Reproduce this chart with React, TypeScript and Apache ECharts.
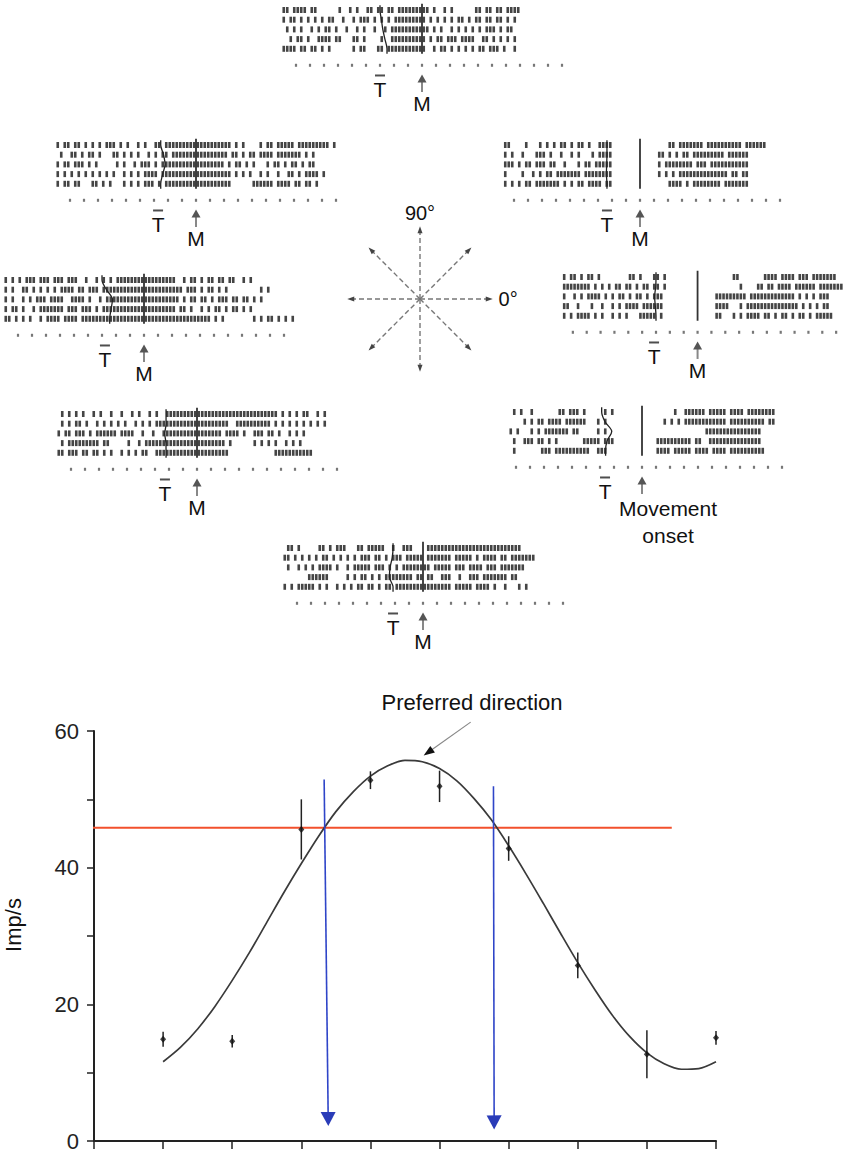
import React, { useEffect, useRef } from 'react';
import * as echarts from 'echarts';

const FONT = "'Liberation Sans', Arial, Helvetica, sans-serif";

// ---------------- Tuning curve (bottom) ----------------
const dirIndex = [0, 1, 2, 3, 4, 5, 6, 7, 8];
const meanRate = [14.9, 14.6, 45.6, 52.8, 51.9, 42.8, 25.7, 12.7, 15.1];
const semRate = [1.1, 0.9, 4.4, 1.3, 2.3, 1.8, 1.9, 3.5, 1.0];
const fitIndex = [
  0, 0.25, 0.5, 0.75, 1, 1.25, 1.5, 1.75, 2, 2.25, 2.5, 2.75, 3, 3.25, 3.5, 3.75,
  4, 4.25, 4.5, 4.75, 5, 5.25, 5.5, 5.75, 6, 6.25, 6.5, 6.75, 7, 7.25, 7.5, 7.75, 8,
];
const fitRate = [
  11.6, 13.7, 16.4, 19.7, 23.5, 27.6, 32.0, 36.4, 40.6, 44.6, 48.2, 51.1, 53.4, 54.9, 55.7, 55.5,
  54.5, 52.7, 50.1, 47.0, 43.2, 39.1, 34.8, 30.4, 26.1, 22.1, 18.4, 15.3, 12.9, 11.3, 10.5, 10.6, 11.6,
];
const halfLevel = 45.85;
const halfLineX = [-2.29, 7.36];
const blueArrows = [[2.33, 52.9, 2.39, 2.2], [4.78, 51.9, 4.79, 1.7]];
const preferredArrow = [[4.45, 61.3, 3.77, 56.4]];
const preferredLabelPos = [[4.47, 64.2]];
const preferredLabel = ['Preferred direction'];

// ---------------- Compass ----------------
const compassAngles = [0, 45, 90, 135, 180, 225, 270, 315];
const compassLabelPos = [[0, 1.18], [1.08, 0]];
const compassLabels = ['90°', '0°'];

// ---------------- Rasters ----------------
// one character = one 25 ms bin starting at -1100 ms; '|' = spike. Movement onset = 0 ms.
const BIN0 = -1100;
const BIN = 25;
const dotTimes = [-900, -800, -700, -600, -500, -400, -300, -200, -100, 0, 100, 200, 300, 400, 500, 600, 700, 800, 900, 1000];

const raster90 = [
  '....||.||| |.||...... |..|.|..|| .||.||.||| ||||||.|.. |.|......| |.||.||.|| ||........',
  '....|.||.| .|.|.|.||. .|..|.|||. |.|.|.|||| |||||.|.|. |.|.||.|.| |.||.||.|. |.........',
  '.....|.|.| ..|.|.||.| ..|..|.|.. |..|.||||| ||||||.|.| ..|.|.|.|. |.|||.|.|| ..........',
  '......|.|| .|..||||.| |...||.|.. ..|..||||| |||||.|.|| .|||.||||. .||.|.|.|. |.........',
  '....||||.| |.||.|.|.. ....|.||.. .||.|||||| |||||..|.| |.|.|.|.|. ||.|||.|.. |.........',
];
const raster135 = [
  '....|.||.| |.|.|.|.|| |.|.|..|.| ..||.||||| |||||||||| ||||.|.|.. ..|.||.||| ||.||||||| ||.|....',
  '.....|..|| .|.||.|... ||.|.|.|.. |.|.||.||| |||||||||| |||.||.|.| |.||||.||| ||||.|.|.. ........',
  '....|.||.| ||.|.|.... .|.|..|.|| |.|.|||||| |||||||||| ||.|.||.|. |...|.||.| .||.|.||.. ........',
  '....|.|.|. |.|.|.|.|. |..|.|.|.| |||.|||||| |||||||||| ||||.|.|.| ..|.|..|.. ||.|.||||. |.......',
  '....|.||.| |...||.|.| ...|.|.|.| ||.|.||||| |||||||||| ||||...... ||||||.||| |.||.||.|. ........',
];
const raster45 = [
  '.....||... .|...|.|.| .||.|.||.| ..||||.... .......... ..||.||||| ||.||||||| |||.|||||| ........',
  '.....|.|.. |...|||.|. .|..|.|... |.||||.... .........| |.|.|.||.| ||||||||.| |||||..... ........',
  '.....|||.| .||.|||.|| ..|...|.|| .|||||.... .........| .||||||||. |||.|||||| |||||..... ........',
  '.....|.... |..|.|.||. |||||||.|| ||||||.... .........| .|.|.||||| |||||||||. ||.||..... ........',
  '.....|.|.| .||.|||||| |.|.|.||.| |||.||.... .......... ..||||.|.| |||||||.|| |||||..... ........',
];
const raster180 = [
  '....|.|.|. |||.|||.|| |.|||..|.. |.|.|.|||| |||||||||| |||..|.||. |.||.||.|| ..|.|..... ........',
  '....|.|..| |.|.|.|.|. ||||.||.|| |.|||||||| |||||||||| |||||.|||. |.||.|.|.. .......|.| ........',
  '....|.|..| .|.|||.||| |..||||.|. .|.||||||| |||||||||| ||||.|.||. ||.|.|||.| |.||.|.|.. ........',
  '....|.||.| ..|.|||||| |.|||.|||. |.|||||||| |||||||||| |||.||.|.. |.|.||.|.| |.|.|..... ........',
  '....||.|.| .|..|.|||| .||||.|||| |||||||||| |||||||||| |||||||||| |||.|.|... .....|.|.| |.|.|.|.',
];
const raster0 = [
  '.....|.||. |.||.|.... ....||.|.. .||.|..... .......... ....||.... ...||||.|| ||.|||.||| ||||....',
  '.....||||| |||.|.|.|. ||.||.|.|| .||.|..... .......... ......|... .||.||.||| |.||||||.| ||||||..',
  '.....|..|. |.||||.|.| .||.|.||.| .|||...... .........| ||||||||.| |||||||||| ||.|.|.|.| ||......',
  '.....||..| ...|..|..| .|.||||.|| ||||...... .........| |||...|.|| |||||||||| |||.|.|.|. ||......',
  '.....|.|.| |||.|.|..| .|.|...||| ||.|...... .........| |...|.|.|| ||.||.|.|| .|.||.|.|| |||.....',
];
const raster225 = [
  '.....|.|.| .|..|.|..| ..|..|.|.. |.|..||||| |||||||||| |||||||||| |||||||.|. |.|.||..|. |.......',
  '.....|.|.| |.|..|.|.| .|.|..|.|. |.|||||||| |||||||||| |||..||||| |||||.|.|. |.|.|.|.|. |.......',
  '....|.||.| ||.|.||||| |.||||..|. .|..|||||| |||||||||| |.||||.|.. |||.||.|.. |.|.|..... ........',
  '.....|.||| ||||||.||. ....|..|.| |||||||||| |||||||||| ||.|...... |.|.|.|..| .|.|...... ........',
  '....||.||| .||.||.|.| ..|.|.|.|| ..|||||||| |||||||||| |||....... ......|||| |||||||... ........',
];
const raster315 = [
  '.......|.| ..|....... ||.|||.|.. ...|.|.... .......... ...|..|||| ||.|||||.| |||.|||||| ||......',
  '.......... |.|.||.||| |.||||||.. .|.|...... .......... |.|.|.|||| ||||||||.| |||||||||. ||......',
  '......|.|. ..|.|.|||| |||.||.... .|.|...... .......... .......... ..|||||||| ||||||||.. ........',
  '.......|.. |||.||.|.| .......||| ||.|||.... ........|| ||||||||.| |..||||||| ||||||||.. ........',
  '.......|.. .....|||.| |||||||||. .|||...... ........|| ||.|||||.| |||.||||.| |||||||||. ........',
];
const raster270 = [
  '.....||.|. ....||.|.| ||...||.|| |||..|..|| |....||||| |||||||||| |||||||||| ||........',
  '....||.|.| .|.|.||.|. |.|.|.|||. ||.|.|||.| ||||.||||| ||.|||||.| .||||.||.| ||||||....',
  '.....|..|. |.|.||||.| ..|.|||||. |||.|.|.|| ||||||.||| ||.|||.||| |.|||.|||| |||.......',
  '.......... .||||||... ..|.|.||.| .|.||||||| |.||.||..| ||..|..||| .|||||||.| |.........',
  '....|.|.|| |||.|.|..| .|.|.||.|| .|.||.|||| |||||||||| ||.|||||.| |||.|..|.. .|.|......',
];

const targets90 = [-300, -290, -280, -265, -250];
const targets135 = [-252, -232, -221, -238, -252];
const targets45 = [-236, -236, -238, -240, -236];
const targets180 = [-300, -268, -225, -235, -245];
const targets0 = [-300, -302, -310, -305, -300];
const targets225 = [-221, -221, -230, -222, -221];
const targets315 = [-288, -264, -216, -250, -260];
const targets270 = [-214, -220, -235, -240, -214];

const targetLabelTimes = [-300, -271, -236, -279, -314, -229, -264, -214];
const onsetLabels = ['M', 'M', 'M', 'M', 'M', 'M', 'Movement\nonset', 'M'];
const onsetLabelTimes = [0, 0, 0, 0, 0, 0, 186, 0];

// layout (pixel placement of each raster panel: x of movement onset, top of panel)
const ROW = 9.7;
const PANELS = [
  { mx: 422, top: 0.3 },
  { mx: 196, top: 135.3 },
  { mx: 640, top: 135.3 },
  { mx: 144, top: 270.3 },
  { mx: 699, top: 267.3 },
  { mx: 197, top: 404.3 },
  { mx: 642, top: 402.3 },
  { mx: 423, top: 538.3 },
];
const rasters = [raster90, raster135, raster45, raster180, raster0, raster225, raster315, raster270];
const targets = [targets90, targets135, targets45, targets180, targets0, targets225, targets315, targets270];

const DOT_Y = 6.7;
const BAR_Y = 7.75;
const T_Y = 9.15;
const ARROW_Y = [9.45, 7.65];
const M_Y = 10.6;
const ONSET_Y = 12.3;

function spikesFrom(rows: string[]) {
  const pts: number[][] = [];
  rows.forEach((row, r) => {
    const s = row.replace(/ /g, '');
    for (let b = 0; b < s.length; b++) {
      if (s[b] === '|') pts.push([BIN0 + b * BIN + BIN / 2, r + 1]);
    }
  });
  return pts;
}

function textSeries(gi: number, pts: number[][], labels: string[], size: number, align = 'center', lineHeight?: number) {
  return {
    type: 'custom',
    coordinateSystem: 'cartesian2d',
    xAxisIndex: gi,
    yAxisIndex: gi,
    silent: true,
    clip: false,
    z: 6,
    data: pts,
    renderItem: (params: any, api: any) => {
      const p = api.coord([api.value(0), api.value(1)]);
      const style: any = {
        text: labels[params.dataIndex],
        fontSize: size,
        fontFamily: FONT,
        fill: '#111',
        align,
        verticalAlign: 'middle',
        textAlign: align,
        textVerticalAlign: 'middle',
      };
      if (lineHeight) style.lineHeight = lineHeight;
      return { type: 'text', x: p[0], y: p[1], style };
    },
  };
}

function arrowSeries(gi: number, segs: number[][], opt: any) {
  return {
    type: 'custom',
    coordinateSystem: 'cartesian2d',
    xAxisIndex: gi,
    yAxisIndex: gi,
    silent: true,
    clip: false,
    z: opt.z || 4,
    data: segs,
    renderItem: (params: any, api: any) => {
      const a = api.coord([api.value(0), api.value(1)]);
      const b = api.coord([api.value(2), api.value(3)]);
      const dx = b[0] - a[0];
      const dy = b[1] - a[1];
      const len = Math.hypot(dx, dy) || 1;
      const ux = dx / len;
      const uy = dy / len;
      const bx = b[0] - ux * opt.headLen;
      const by = b[1] - uy * opt.headLen;
      const hw = opt.headWidth / 2;
      const lineStyle: any = { stroke: opt.color, lineWidth: opt.width };
      if (opt.dash) lineStyle.lineDash = opt.dash;
      return {
        type: 'group',
        children: [
          { type: 'line', shape: { x1: a[0], y1: a[1], x2: bx + ux, y2: by + uy }, style: lineStyle },
          {
            type: 'polygon',
            shape: { points: [[b[0], b[1]], [bx - uy * hw, by + ux * hw], [bx + uy * hw, by - ux * hw]] },
            style: { fill: opt.headColor || opt.color },
          },
        ],
      };
    },
  };
}

function buildOption() {
  const grid: any[] = [];
  const xAxis: any[] = [];
  const yAxis: any[] = [];
  const series: any[] = [];

  PANELS.forEach((p, i) => {
    grid.push({ left: p.mx - 140, top: p.top, width: 294, height: 14 * ROW });
    xAxis.push({ gridIndex: i, type: 'value', min: -1000, max: 1100, show: false });
    yAxis.push({ gridIndex: i, type: 'value', min: 0, max: 14, inverse: true, show: false });

    series.push({
      type: 'scatter',
      xAxisIndex: i,
      yAxisIndex: i,
      silent: true,
      clip: false,
      symbol: 'rect',
      symbolSize: [2.6, 6],
      itemStyle: { color: '#161616' },
      data: spikesFrom(rasters[i]),
    });
    const tt = targets[i];
    series.push({
      type: 'line',
      xAxisIndex: i,
      yAxisIndex: i,
      silent: true,
      smooth: 0.3,
      symbol: 'none',
      lineStyle: { color: '#222', width: 1.3 },
      data: [[tt[0], 0.5], ...tt.map((t, r) => [t, r + 1]), [tt[4], 5.5]],
    });
    series.push({
      type: 'line',
      xAxisIndex: i,
      yAxisIndex: i,
      silent: true,
      symbol: 'none',
      lineStyle: { color: '#333', width: 1.8 },
      data: [[0, 0.35], [0, 5.5]],
    });
    series.push({
      type: 'scatter',
      xAxisIndex: i,
      yAxisIndex: i,
      silent: true,
      clip: false,
      symbol: 'rect',
      symbolSize: [2.2, 3],
      itemStyle: { color: '#555' },
      data: dotTimes.map((t) => [t, DOT_Y]),
    });
    series.push({
      type: 'scatter',
      xAxisIndex: i,
      yAxisIndex: i,
      silent: true,
      clip: false,
      symbol: 'rect',
      symbolSize: [10, 2],
      itemStyle: { color: '#222' },
      data: [[targetLabelTimes[i], BAR_Y]],
    });
    series.push(textSeries(i, [[targetLabelTimes[i], T_Y]], ['T'], 21));
    series.push(
      arrowSeries(i, [[0, ARROW_Y[0], 0, ARROW_Y[1]]], { color: '#888', width: 2, headLen: 8, headWidth: 9, headColor: '#555' })
    );
    const isOnset = onsetLabels[i].indexOf('\n') >= 0;
    series.push(
      textSeries(i, [[onsetLabelTimes[i], isOnset ? ONSET_Y : M_Y]], [onsetLabels[i]], 21, 'center', isOnset ? 27 : undefined)
    );
  });

  // compass
  const cg = PANELS.length;
  grid.push({ left: 340, top: 219, width: 160, height: 160 });
  xAxis.push({ gridIndex: cg, type: 'value', min: -1.1, max: 1.1, show: false });
  yAxis.push({ gridIndex: cg, type: 'value', min: -1.1, max: 1.1, show: false });
  series.push(
    arrowSeries(
      cg,
      compassAngles.map((a) => [0, 0, Math.cos((a * Math.PI) / 180), Math.sin((a * Math.PI) / 180)]),
      { color: '#777', width: 1.4, headLen: 7, headWidth: 5, headColor: '#444', dash: [5, 3] }
    )
  );
  series.push(textSeries(cg, [compassLabelPos[0]], [compassLabels[0]], 20, 'center'));
  series.push(textSeries(cg, [compassLabelPos[1]], [compassLabels[1]], 20, 'left'));

  // tuning curve
  const tg = cg + 1;
  grid.push({ left: 94, top: 731, width: 622, height: 410.5 });
  xAxis.push({
    gridIndex: tg,
    type: 'value',
    min: -1,
    max: 8,
    interval: 1,
    axisLine: { show: true, onZero: false, lineStyle: { color: '#222', width: 2 } },
    axisTick: { show: true, length: 8, lineStyle: { color: '#222', width: 1.5 } },
    axisLabel: { show: false },
    splitLine: { show: false },
  });
  yAxis.push({
    gridIndex: tg,
    type: 'value',
    min: 0,
    max: 60,
    interval: 10,
    axisLine: { show: true, onZero: false, lineStyle: { color: '#222', width: 2 } },
    axisTick: { show: true, length: 7, lineStyle: { color: '#222', width: 1.5 } },
    axisLabel: {
      fontSize: 22,
      fontFamily: FONT,
      color: '#222',
      margin: 15,
      formatter: (v: number) => (v % 20 === 0 ? String(v) : ''),
    },
    splitLine: { show: false },
  });

  series.push({
    type: 'line',
    xAxisIndex: tg,
    yAxisIndex: tg,
    silent: true,
    clip: false,
    symbol: 'none',
    lineStyle: { color: '#f2502c', width: 2 },
    data: halfLineX.map((x) => [x, halfLevel]),
    z: 2,
  });
  series.push({
    type: 'line',
    xAxisIndex: tg,
    yAxisIndex: tg,
    silent: true,
    smooth: 0.3,
    symbol: 'none',
    lineStyle: { color: '#3a3a3a', width: 1.7 },
    data: fitIndex.map((x, k) => [x, fitRate[k]]),
    z: 3,
  });
  series.push({
    type: 'custom',
    coordinateSystem: 'cartesian2d',
    xAxisIndex: tg,
    yAxisIndex: tg,
    silent: true,
    data: dirIndex.map((x, k) => [x, meanRate[k], semRate[k]]),
    renderItem: (params: any, api: any) => {
      const x = api.value(0);
      const m = api.value(1);
      const e = api.value(2);
      const lo = api.coord([x, m - e]);
      const hi = api.coord([x, m + e]);
      return {
        type: 'line',
        shape: { x1: lo[0], y1: lo[1], x2: hi[0], y2: hi[1] },
        style: { stroke: '#222', lineWidth: 1.5 },
      };
    },
    z: 4,
  });
  series.push({
    type: 'scatter',
    xAxisIndex: tg,
    yAxisIndex: tg,
    silent: true,
    symbol: 'diamond',
    symbolSize: [6, 7],
    itemStyle: { color: '#111' },
    data: dirIndex.map((x, k) => [x, meanRate[k]]),
    z: 5,
  });
  series.push(
    arrowSeries(tg, blueArrows, { color: '#2f45c8', width: 1.6, headLen: 14, headWidth: 15, headColor: '#2a3cb8', z: 6 })
  );
  series.push(
    arrowSeries(tg, preferredArrow, { color: '#888', width: 1.2, headLen: 11, headWidth: 8, headColor: '#111', z: 6 })
  );
  series.push(textSeries(tg, preferredLabelPos, preferredLabel, 22, 'center'));

  return {
    animation: false,
    backgroundColor: '#ffffff',
    grid,
    xAxis,
    yAxis,
    series,
    graphic: [
      {
        type: 'text',
        x: 13,
        y: 925,
        rotation: Math.PI / 2,
        style: {
          text: 'Imp/s',
          fontSize: 22,
          fontFamily: FONT,
          fill: '#111',
          align: 'center',
          verticalAlign: 'middle',
          textAlign: 'center',
          textVerticalAlign: 'middle',
        },
      },
    ],
  };
}

export default function App() {
  const ref = useRef<HTMLDivElement>(null);
  useEffect(() => {
    if (!ref.current) return;
    const chart = echarts.init(ref.current, undefined, { renderer: 'svg' });
    chart.setOption(buildOption() as any);
    return () => chart.dispose();
  }, []);
  return (
    <div
      ref={ref}
      style={{ position: 'fixed', left: 0, top: 0, width: 850, height: 1152, background: '#fff' }}
    />
  );
}
